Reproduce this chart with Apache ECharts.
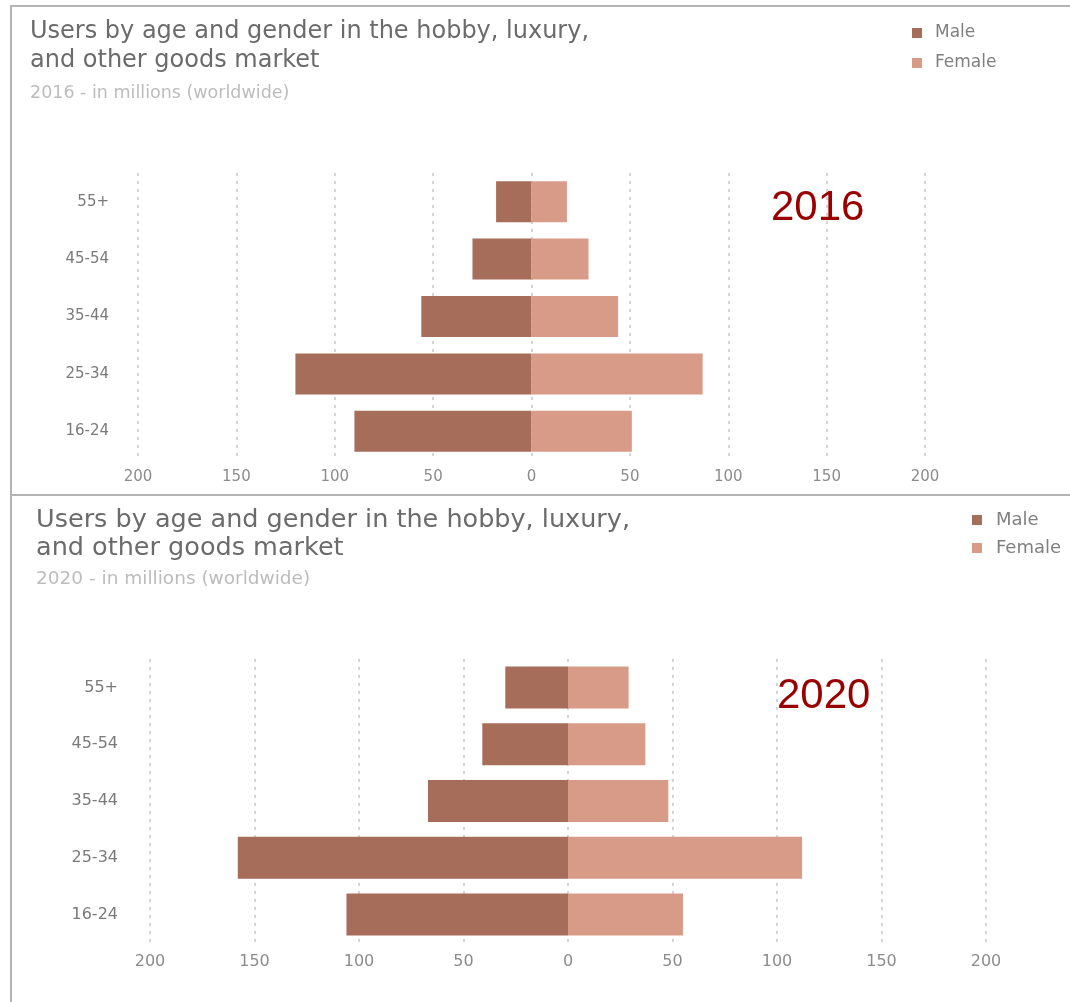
<!DOCTYPE html>
<html>
<head>
<meta charset="utf-8">
<script src="https://cdn.jsdelivr.net/npm/echarts@6/dist/echarts.min.js"></script>
<style>
html,body{margin:0;padding:0;background:#fff;}
#chart{width:1070px;height:1002px;}
</style>
</head>
<body>
<div id="chart"></div>
<script>
var categories = ['16-24', '25-34', '35-44', '45-54', '55+'];
var male2016 = [90, 120, 56, 30, 18];
var female2016 = [51, 87, 44, 29, 18];
var male2020 = [106, 158, 67, 41, 30];
var female2020 = [55, 112, 48, 37, 29];
var seriesNames = ['Male', 'Female'];
var xTicks = [-200, 200, 50];

var MALE = '#a66d5b', FEMALE = '#d89b87';
var FONT = 'DejaVu Sans';
var chart = echarts.init(document.getElementById('chart'));

function neg(a){ return a.map(function(v){ return -v; }); }
function xAxis(gi, fs, m){
  return {
    type: 'value', gridIndex: gi, min: xTicks[0], max: xTicks[1], interval: xTicks[2],
    axisLine: {show: false}, axisTick: {show: false},
    axisLabel: {color: '#8c8c8c', fontSize: fs, fontFamily: FONT, margin: m,
      formatter: function(v){ return Math.abs(v); }},
    splitLine: {show: true, lineStyle: {color: '#d4d4d4', width: 2, type: [3, 5]}}
  };
}
function yAxis(gi, fs, m){
  return {
    type: 'category', gridIndex: gi, data: categories,
    axisLine: {show: false}, axisTick: {show: false},
    axisLabel: {color: '#7a7a7a', fontSize: fs, fontFamily: FONT, margin: m},
    splitLine: {show: false}
  };
}
function bar(name, data, gi, color, bw){
  return {
    name: name, type: 'bar', xAxisIndex: gi, yAxisIndex: gi, data: data,
    barWidth: bw, barGap: '-100%', itemStyle: {color: color},
    silent: true, animation: false
  };
}

var option = {
  animation: false,
  title: [
    {text: 'Users by age and gender in the hobby, luxury,\nand other goods market', left: 30, top: 17, padding: 0,
      textStyle: {color: '#6b6b6b', fontSize: 24, fontWeight: 'normal', fontFamily: FONT, lineHeight: 29}},
    {text: '2016 - in millions (worldwide)', left: 30, top: 83, padding: 0,
      textStyle: {color: '#bcbcbc', fontSize: 17.5, fontWeight: 'normal', fontFamily: FONT, lineHeight: 20}},
    {text: 'Users by age and gender in the hobby, luxury,\nand other goods market', left: 36, top: 506, padding: 0,
      textStyle: {color: '#6b6b6b', fontSize: 25.5, fontWeight: 'normal', fontFamily: FONT, lineHeight: 28}},
    {text: '2020 - in millions (worldwide)', left: 36, top: 568, padding: 0,
      textStyle: {color: '#bcbcbc', fontSize: 18.5, fontWeight: 'normal', fontFamily: FONT, lineHeight: 22}}
  ],
  legend: [
    {data: seriesNames, orient: 'vertical', left: 912, top: 24, padding: 0, itemWidth: 10, itemHeight: 10, itemGap: 12,
      icon: 'rect', selectedMode: false,
      textStyle: {color: '#808080', fontSize: 17, fontFamily: FONT, lineHeight: 18, padding: [0, 0, 0, 8]}},
    {data: seriesNames, orient: 'vertical', left: 972, top: 511, padding: 0, itemWidth: 10, itemHeight: 10, itemGap: 10,
      icon: 'rect', selectedMode: false,
      textStyle: {color: '#808080', fontSize: 18, fontFamily: FONT, lineHeight: 18, padding: [0, 0, 0, 9]}}
  ],
  grid: [
    {left: 138, right: 145, top: 173, height: 287},
    {left: 150, right: 84, top: 659, height: 284}
  ],
  xAxis: [xAxis(0, 15, 10), xAxis(1, 16, 11)],
  yAxis: [yAxis(0, 15, 29), yAxis(1, 16, 32)],
  series: [
    bar('Male', neg(male2016), 0, MALE, 41),
    bar('Female', female2016, 0, FEMALE, 41),
    bar('Male', neg(male2020), 1, MALE, 42),
    bar('Female', female2020, 1, FEMALE, 42)
  ],
  graphic: [
    {type: 'line', shape: {x1: 10, y1: 6, x2: 1070, y2: 6}, style: {stroke: '#b4b4b4', lineWidth: 2}, silent: true},
    {type: 'line', shape: {x1: 10, y1: 495, x2: 1070, y2: 495}, style: {stroke: '#b4b4b4', lineWidth: 2}, silent: true},
    {type: 'line', shape: {x1: 11, y1: 5, x2: 11, y2: 1002}, style: {stroke: '#b4b4b4', lineWidth: 2}, silent: true},
    {type: 'text', left: 771, top: 187, style: {text: '2016', fill: '#990000', fontSize: 42, fontFamily: 'Liberation Sans'}, silent: true},
    {type: 'text', left: 777, top: 675, style: {text: '2020', fill: '#990000', fontSize: 42, fontFamily: 'Liberation Sans'}, silent: true}
  ]
};
chart.setOption(option);
</script>
</body>
</html>
